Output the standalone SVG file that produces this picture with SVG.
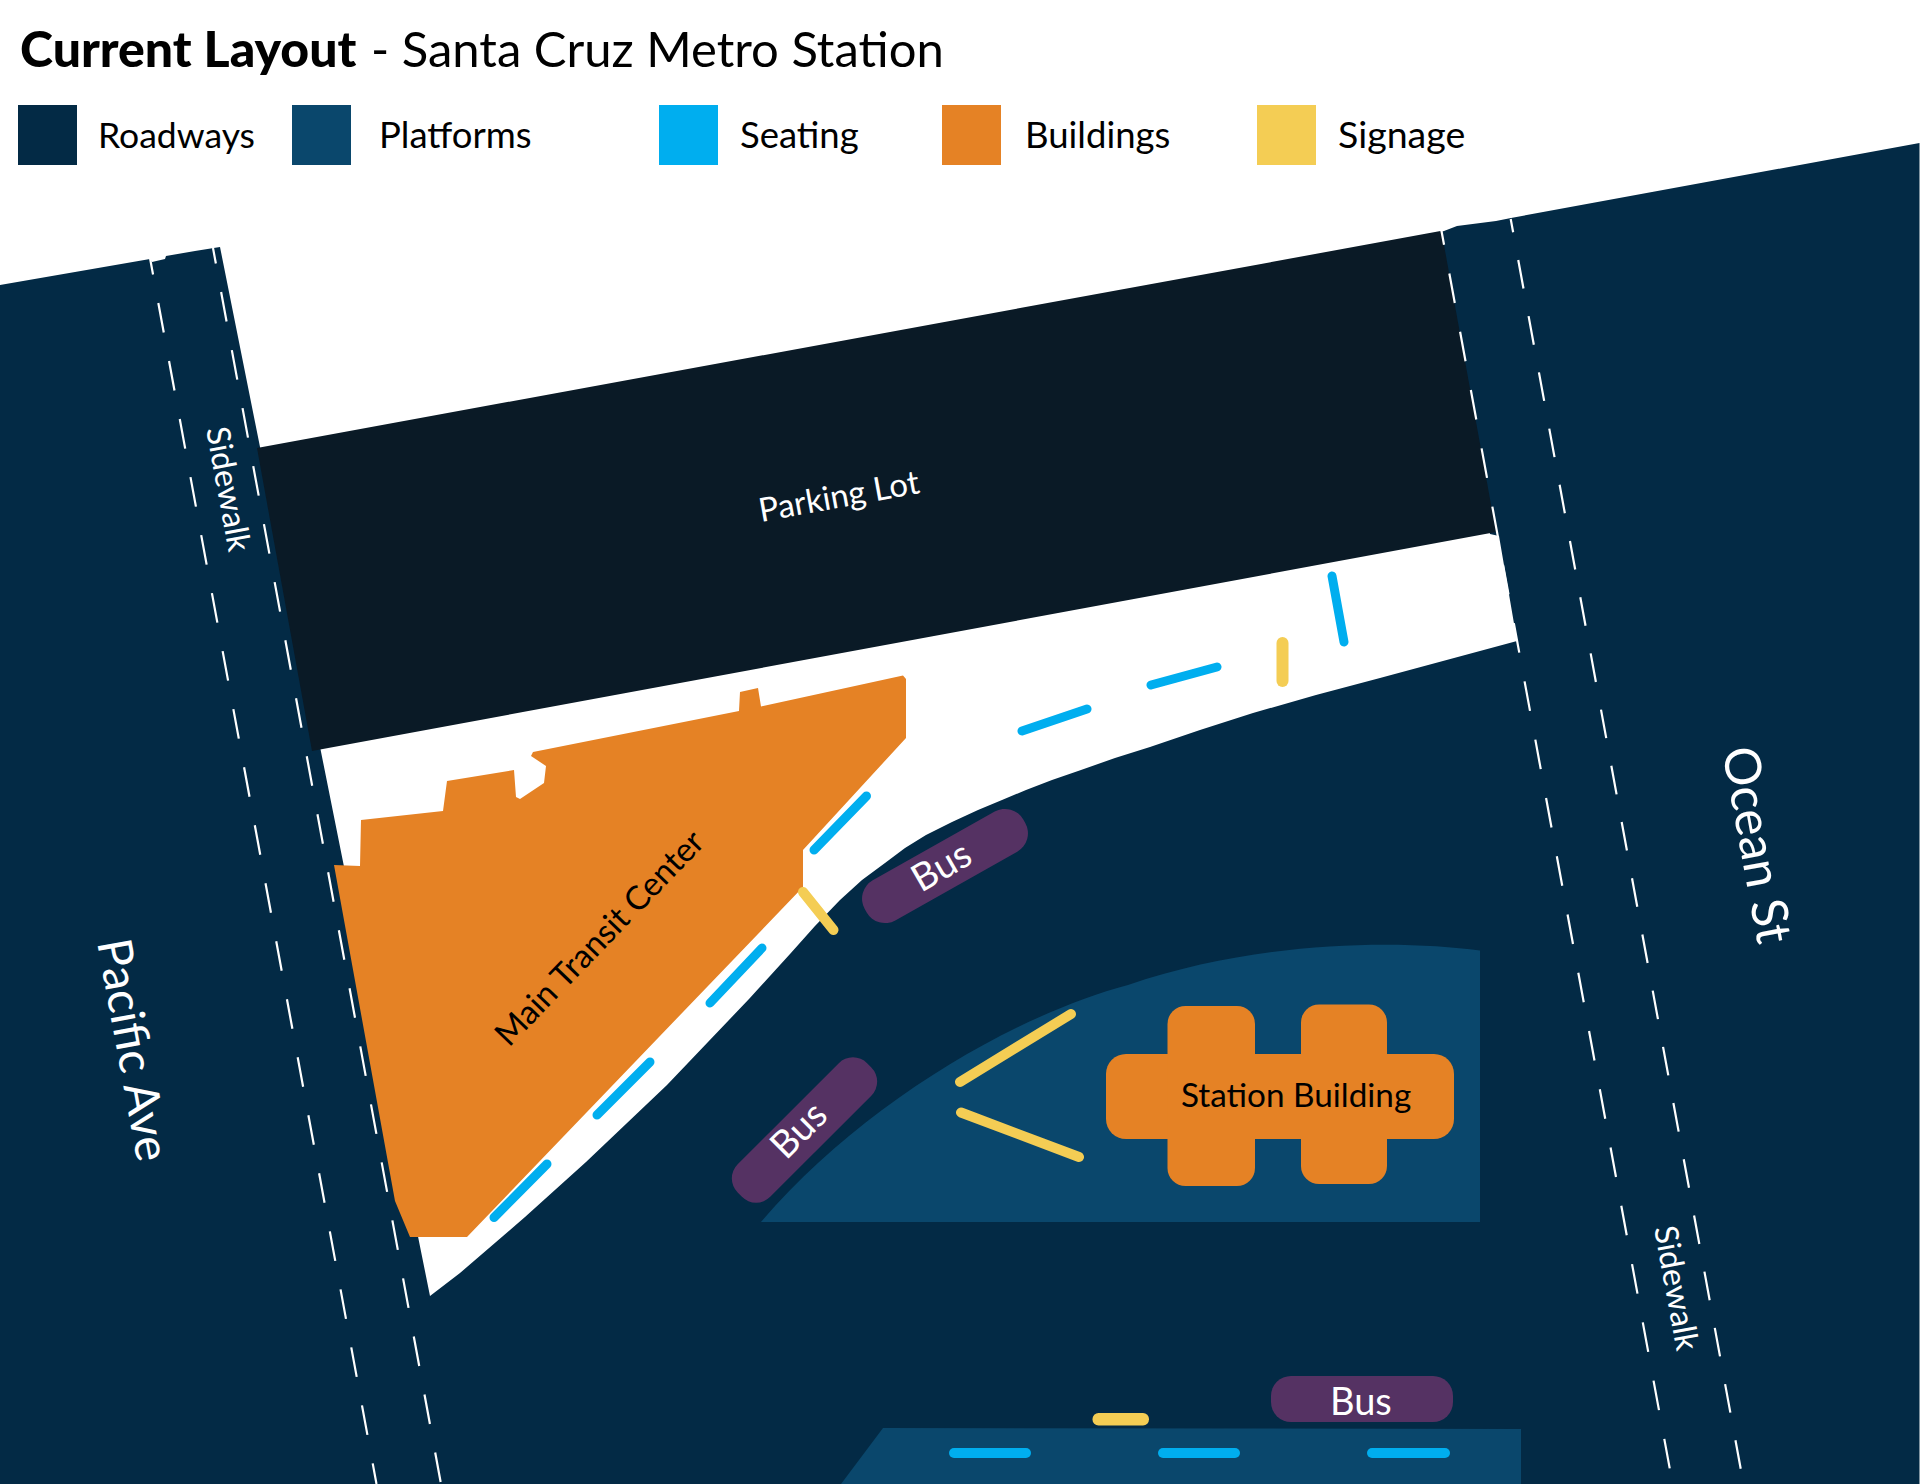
<svg xmlns="http://www.w3.org/2000/svg" width="1920" height="1484" viewBox="0 0 1920 1484">
<style>
.t{font-family:Lato,"Noto Sans",sans-serif}
.road{fill:#032a45}.lot{fill:#0a1a26}.plat{fill:#0a476c}.bld{fill:#e58225}.bus{fill:#553263}.seatf{fill:#00aeef}.signf{fill:#f4cd54}
.dash{fill:none;stroke:#fff;stroke-width:2.2}
.seat{stroke:#00aeef;stroke-width:9;stroke-linecap:round;fill:none}
.sign{stroke:#f4cd54;stroke-width:10;stroke-linecap:round;fill:none}
.sign12{stroke-width:12}
</style>
<rect width="1920" height="1484" fill="#fff"/>
<g id="title" class="t" fill="#000"><text x="20" y="67" font-size="50" font-weight="900">Current Layout</text><text x="371" y="67" font-size="49">- Santa Cruz Metro Station</text></g>
<g id="legend" class="t" font-size="36.500" fill="#000">
<rect class="road" x="18" y="105" width="59" height="60"/><text x="98" y="148" font-size="35.500">Roadways</text>
<rect class="plat" x="292" y="105" width="59" height="60"/><text x="379" y="148">Platforms</text>
<rect class="seatf" x="659" y="105" width="59" height="60"/><text x="740" y="148">Seating</text>
<rect class="bld" x="942" y="105" width="59" height="60"/><text x="1025" y="148">Buildings</text>
<rect class="signf" x="1257" y="105" width="59" height="60"/><text x="1338" y="148" font-size="37.500">Signage</text>
</g>
<g id="roadways">
<path class="road" d="M0 285L150 259L152 262L165 259L166 256L195 251L220 247L418 1236.500L430 1296L460 1273L525 1217L586 1162L667 1085L749 999L790 954L815 926L840 900L862 880L885 863L905 848L926 835L952 822L978 810L1002 800L1026 790L1052 780L1081 770L1115 758L1150 747L1200 730L1253 713L1316 695L1380 678L1517 641L1499 536L1490 534L1440 232L1444 231L1457 226L1496 221L1511 218L1919.500 143V1484H0Z"/>
</g>
<g id="parking-lot"><path class="lot" d="M257 448L1440.500 231L1444 245L1496 532L312 751Z"/><text class="t" transform="translate(761 522) rotate(-10.300)" font-size="33" fill="#fff">Parking Lot</text></g>
<g id="connectors">
<path class="dash" d="M150 258L376.500 1484" stroke-dasharray="30 29" stroke-dashoffset="13.200"/>
<path class="dash" d="M213 248L441 1484" stroke-dasharray="30 29" stroke-dashoffset="14.200"/>
<path class="dash" d="M1441.500 231L1672.600 1484" stroke-dasharray="30 29.250" stroke-dashoffset="16"/>
<path class="dash" d="M1510.700 219L1743.500 1484" stroke-dasharray="29 28.150" stroke-dashoffset="15.500"/>
</g>
<g id="main-transit-center"><path class="bld" d="M334 865L360 866L361 820L443 811L447 781L514 770L516 797L520 799L544 783L546 766L531 756L533 752L739 711L740 692L758 688L761 706.500L903 675.500L906 679V738L803 850V887L467 1237H410L395 1201Z"/>
<text class="t" transform="translate(509 1048) rotate(-46)" font-size="33" fill="#000">Main Transit Center</text></g>
<g id="platform-upper"><path class="plat" d="M1480 950.600C1400 940 1260 940 1128 985C1012 1016 860 1106 761 1222H1480Z"/></g>
<g id="station-building" class="bld">
<rect x="1106" y="1054" width="348" height="85" rx="20"/><rect x="1167.500" y="1006" width="87.500" height="180" rx="18"/><rect x="1301" y="1004.500" width="86" height="179.500" rx="18"/>
<text class="t" x="1181" y="1107" font-size="33.300" fill="#000">Station Building</text></g>
<g id="platform-lower"><path class="plat" d="M883 1428L1521 1429V1484H841Z"/></g>
<g id="seating">
<path class="seat" d="M866.500 796L814 850M762 948L710 1003M650 1062L597 1115M547 1164L494 1217.500M1022 731L1087 709M1151 685L1217 667M1332 576L1344 642"/>
<rect class="seatf" x="949" y="1448" width="82" height="10" rx="5"/><rect class="seatf" x="1158" y="1448" width="82" height="10" rx="5"/><rect class="seatf" x="1367" y="1448" width="83" height="10" rx="5"/>
</g>
<g id="signage">
<path class="sign" d="M803 892L833.500 930M1071 1014L960 1082M961 1112.500L1079 1157"/>
<path class="sign sign12" d="M1282.500 643V681"/>
<rect class="signf" x="1092.500" y="1413" width="56.500" height="12.500" rx="6"/>
</g>
<g id="buses" font-size="38">
<g id="bus-1"><rect class="bus" x="854" y="843" width="182" height="46" rx="21" transform="rotate(-29.400 945 866)"/><text class="t" transform="translate(921 893) rotate(-30)" fill="#fff">Bus</text></g>
<g id="bus-2"><rect class="bus" x="713" y="1107" width="183" height="46" rx="20" transform="rotate(-45 804.500 1130)"/><text class="t" transform="translate(786 1161) rotate(-45)" fill="#fff">Bus</text></g>
<g id="bus-3"><rect class="bus" x="1271" y="1376" width="182" height="46" rx="20"/><text class="t" x="1330" y="1415" fill="#fff">Bus</text></g>
</g>
<g id="labels" class="t" fill="#fff">
<text transform="translate(97 942) rotate(79.600)" font-size="47.500">Pacific Ave</text>
<text transform="translate(1722 750) rotate(79.600)" font-size="50">Ocean St</text>
<text transform="translate(206 429) rotate(79.600)" font-size="32.500">Sidewalk</text>
<text transform="translate(1654 1228) rotate(79.600)" font-size="32.500">Sidewalk</text>
</g>
</svg>
